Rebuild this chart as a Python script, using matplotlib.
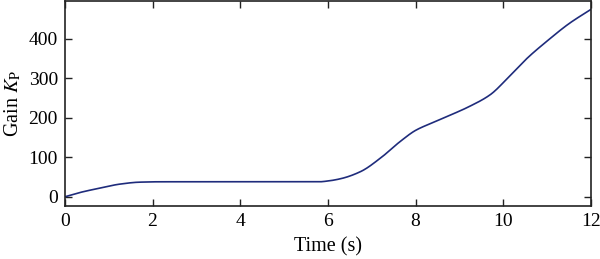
import matplotlib
matplotlib.use("Agg")
import matplotlib.pyplot as plt
import numpy as np

# gain curve
time = [0, 0.35, 0.8, 1.25, 1.7, 2.2, 3, 4, 5, 5.8, 6.0, 6.3, 6.75, 7.2, 7.65,
        8.0, 8.4, 8.8, 9.2, 9.7, 10.1, 10.55, 11.0, 11.5, 12]
gain = [0, 11, 22, 32, 37, 38, 38, 38, 38, 38, 40, 46, 64, 98, 140,
        168, 188, 207, 227, 258, 300, 351, 394, 438, 474]
xticks = [0, 2, 4, 6, 8, 10, 12]
yticks = [0, 100, 200, 300, 400]

plt.rcParams['font.family'] = ['Liberation Serif', 'DejaVu Serif']
plt.rcParams['mathtext.fontset'] = 'stix'

# monotone cubic through the read points, so the line looks smooth
def pchip(x, y, xs):
    x = np.asarray(x, float); y = np.asarray(y, float)
    h = np.diff(x); d = np.diff(y) / h
    m = np.zeros_like(y)
    for i in range(1, len(x) - 1):
        if d[i-1] * d[i] <= 0:
            m[i] = 0
        else:
            w1 = 2*h[i] + h[i-1]; w2 = h[i] + 2*h[i-1]
            m[i] = (w1 + w2) / (w1/d[i-1] + w2/d[i])
    m[0] = d[0]; m[-1] = d[-1]
    idx = np.clip(np.searchsorted(x, xs) - 1, 0, len(h) - 1)
    t = (xs - x[idx]) / h[idx]
    h00 = 2*t**3 - 3*t**2 + 1; h10 = t**3 - 2*t**2 + t
    h01 = -2*t**3 + 3*t**2; h11 = t**3 - t**2
    return h00*y[idx] + h10*h[idx]*m[idx] + h01*y[idx+1] + h11*h[idx]*m[idx+1]

ts = np.linspace(time[0], time[-1], 600)
gs = pchip(time, gain, ts)

fig = plt.figure(figsize=(6, 2.59), dpi=100)
ax = fig.add_axes([0.108, 0.205, 0.877, 0.791])
ax.plot(ts, gs, color='#1f2c7c', lw=1.2)

ax.set_xlim(0, 12)
ax.set_ylim(-23, 495)
ax.set_xticks(xticks)
ax.set_yticks(yticks)
ax.tick_params(direction='in', top=True, right=True, length=5, width=1,
               labelsize=14, colors='#222222', labelcolor='black', pad=5)
for s in ax.spines.values():
    s.set_linewidth(1.2)
    s.set_color('#222222')
ax.set_xlabel('Time (s)', fontsize=14.5, labelpad=5)
ax.set_ylabel(r'Gain $K_\mathrm{P}$', fontsize=14.5, labelpad=4)

plt.savefig('out.png', dpi=100)
